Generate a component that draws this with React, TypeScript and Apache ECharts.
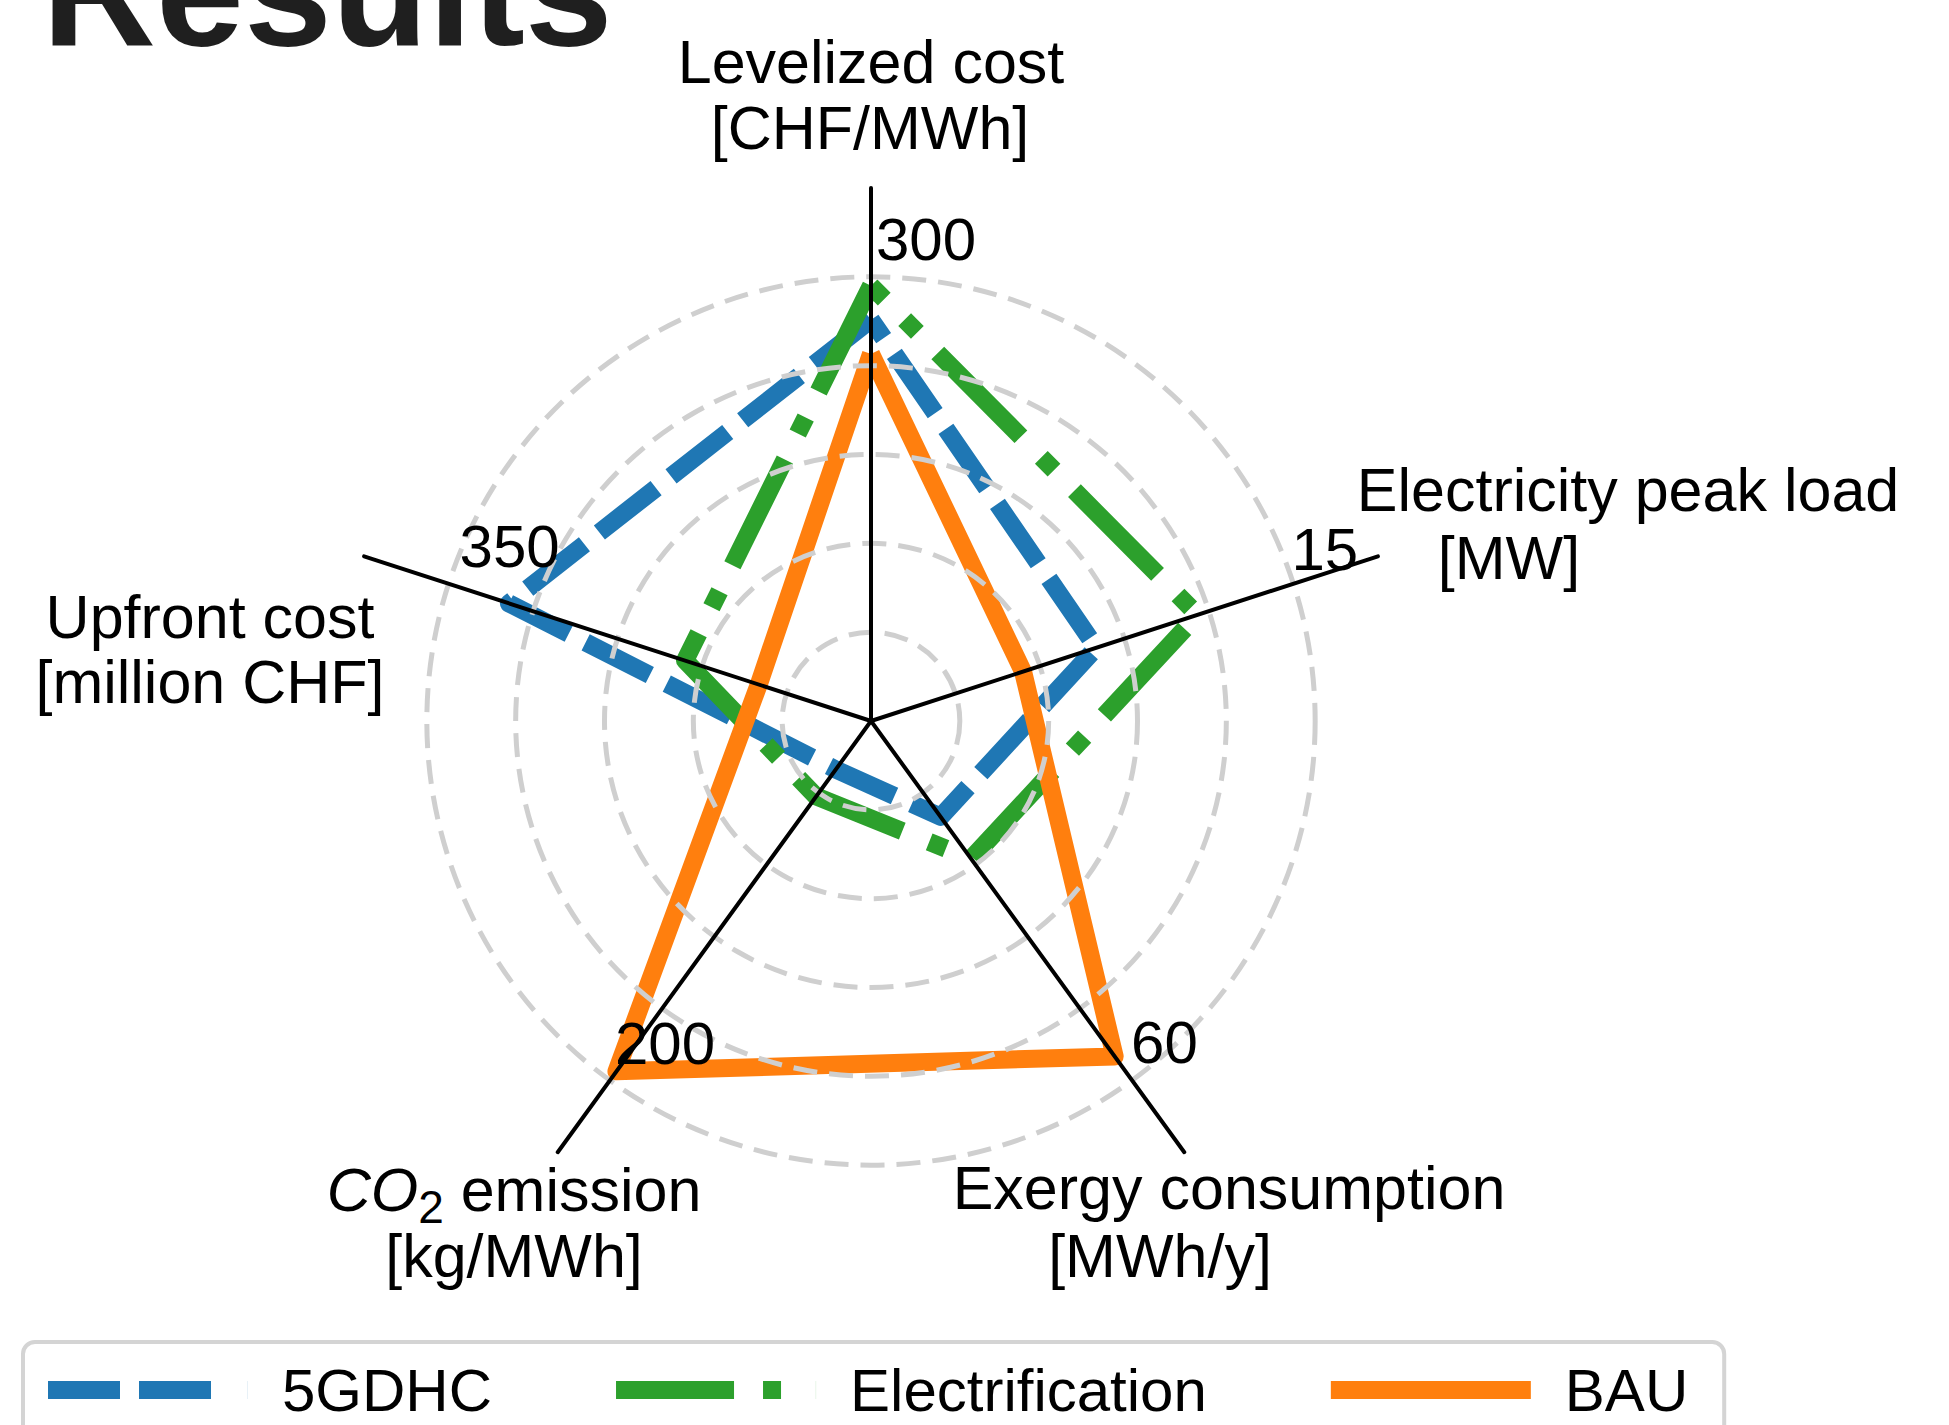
import React, { useEffect, useRef } from 'react';
import * as echarts from 'echarts';

// ---- data (matplotlib clockwise order, starting at the top axis) ----
const axisNames = ['Levelized cost', 'Electricity peak load', 'Exergy consumption', 'CO2 emission', 'Upfront cost'];
const tickLabels = [300, 15, 60, 200, 350];
const seriesNames = ['5GDHC', 'Electrification', 'BAU'];
const gdhcValues = [271, 8.0, 16, 27, 300];
const electrificationValues = [294, 11.6, 23, 42, 154];
const bauValues = [248, 5.4, 56, 195, 93];

// ---- layout / style ----
const W = 1949;
const H = 1425;
const CX = 871;
const CY = 721;
const RADIUS = 533;
const SPLITS = 6;
const LABEL_RING = 5;
const FONT = '"Liberation Sans", Arial, Helvetica, sans-serif';
const FS = 61;
const GRID = '#cfcfcf';
const COLORS = ['#1f77b4', '#2ca02c', '#ff7f0e'];
const DASHES: (number[] | 'solid')[] = [[72, 19], [118, 29, 18, 29], 'solid'];
const ICONS = [
  'path://M0,0h72v18h-72zM91,0h72v18h-72zM199.9,0h0.1v18h-0.1z',
  'path://M0,0h118v18h-118zM147,0h18v18h-18zM199.9,0h0.1v18h-0.1z',
  'path://M0,0h200v18h-200z',
];
// echarts lays indicators counter-clockwise; reorder so the picture runs clockwise
const ORDER = [0, 4, 3, 2, 1];
// fine offsets of the tick-label text from the ring point (x, baseline), same order as tickLabels
const TICK_DX = [0, -7, -6, 0, 6];
const TICK_DY = [-17, -13, -17, -16, -16];

const mid = (baseline: number, fs: number) => baseline - 0.3465 * fs;

const nameLines: { text: string; x: number; base: number; rich?: boolean }[] = [
  { text: 'Levelized cost', x: 871, base: 83 },
  { text: '[CHF/MWh]', x: 870, base: 149 },
  { text: 'Electricity peak load', x: 1628, base: 511 },
  { text: '[MW]', x: 1509, base: 579 },
  { text: 'Upfront cost', x: 210, base: 638 },
  { text: '[million CHF]', x: 210, base: 703 },
  { text: '{i|CO}{s|2} emission', x: 514, base: 1211, rich: true },
  { text: '[kg/MWh]', x: 514, base: 1277 },
  { text: 'Exergy consumption', x: 1229, base: 1209 },
  { text: '[MWh/y]', x: 1160, base: 1277 },
];

function textEl(text: string, x: number, y: number, extra: any = {}) {
  const align = extra.align || 'center';
  return {
    type: 'text',
    x,
    y,
    z: 100,
    silent: true,
    style: {
      text,
      fill: extra.fill || '#000',
      fontSize: extra.fontSize || FS,
      fontFamily: FONT,
      fontWeight: extra.fontWeight || 'normal',
      textAlign: align,
      align,
      textVerticalAlign: 'middle',
      verticalAlign: 'middle',
      lineHeight: extra.lineHeight,
      rich: extra.rich,
    },
  };
}

export default function App() {
  const ref = useRef<HTMLDivElement>(null);

  useEffect(() => {
    if (!ref.current) return;
    const chart = echarts.init(ref.current, null, { renderer: 'svg', width: W, height: H });

    const indicator = ORDER.map((i) => ({
      name: axisNames[i],
      min: 0,
      max: (tickLabels[i] * SPLITS) / LABEL_RING,
    }));

    const allValues = [gdhcValues, electrificationValues, bauValues];
    const radarData = seriesNames.map((name, s) => ({
      name,
      value: ORDER.map((i) => allValues[s][i]),
      itemStyle: { color: COLORS[s] },
      lineStyle: {
        color: COLORS[s],
        width: 18,
        type: DASHES[s],
        cap: 'butt',
        join: 'round',
      },
      areaStyle: { opacity: 0 },
    }));

    const ringR = (RADIUS * LABEL_RING) / SPLITS;
    const tickEls = tickLabels.map((v, i) => {
      const a = ((90 - 72 * i) * Math.PI) / 180;
      const x = CX + ringR * Math.cos(a) + 5 + TICK_DX[i];
      const base = CY - ringR * Math.sin(a) + TICK_DY[i];
      return textEl(String(v), x, mid(base, 60), { align: 'left', fontSize: 60 });
    });

    const nameEls = nameLines.map((l) =>
      l.rich
        ? textEl(l.text, l.x, mid(l.base, FS), {
            lineHeight: 64,
            rich: {
              i: { fontStyle: 'italic', fontSize: FS, fontFamily: FONT, lineHeight: 64, fill: '#000' },
              s: { fontSize: 46, fontFamily: FONT, lineHeight: 64, padding: [34, 0, 0, 0], fill: '#000' },
            },
          })
        : textEl(l.text, l.x, mid(l.base, FS))
    );

    const titleEl = textEl('Results', 42, mid(45, 158), {
      align: 'left',
      fontSize: 158,
      fontWeight: 'bold',
      fill: '#1f1f1f',
    });

    chart.setOption({
      animation: false,
      backgroundColor: '#ffffff',
      radar: {
        center: [CX, CY],
        radius: RADIUS,
        startAngle: 90,
        shape: 'circle',
        splitNumber: SPLITS,
        z: 5,
        indicator,
        axisName: { show: false },
        axisLine: { lineStyle: { color: '#000', width: 4 } },
        axisTick: { show: false },
        axisLabel: { show: false },
        splitLine: {
          lineStyle: {
            color: ['rgba(0,0,0,0)', GRID, GRID, GRID, GRID, GRID, 'rgba(0,0,0,0)'],
            width: 5,
            type: [24, 12],
          },
        },
        splitArea: { show: false },
      },
      legend: {
        left: 23,
        top: 1342,
        orient: 'horizontal',
        data: seriesNames.map((n, s) => ({ name: n, icon: ICONS[s] })),
        itemWidth: 200,
        itemHeight: 18,
        itemGap: 124,
        padding: [13, 36, 40, 25],
        backgroundColor: '#ffffff',
        borderColor: '#d4d4d4',
        borderWidth: 4,
        borderRadius: 12,
        selectedMode: false,
        itemStyle: { borderWidth: 0 },
        textStyle: {
          fontSize: 60,
          fontFamily: FONT,
          color: '#000',
          padding: [0, 0, 0, 29],
          lineHeight: 70,
        },
      },
      series: [
        {
          type: 'radar',
          z: 2,
          symbol: 'none',
          emphasis: { disabled: true },
          data: radarData,
        },
      ],
      graphic: { elements: [titleEl, ...tickEls, ...nameEls] },
    });

    return () => chart.dispose();
  }, []);

  return (
    <div
      ref={ref}
      style={{ position: 'absolute', left: 0, top: 0, width: W + 'px', height: H + 'px', background: '#fff' }}
    />
  );
}
